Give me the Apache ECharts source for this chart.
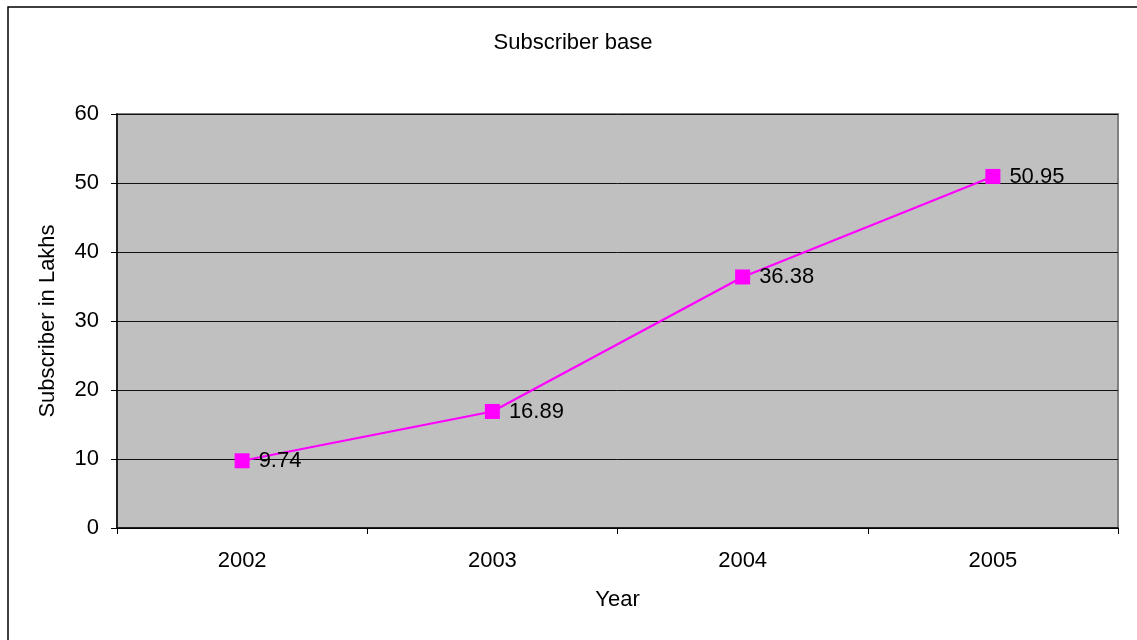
<!DOCTYPE html>
<html><head><meta charset="utf-8">
<script src="https://cdn.jsdelivr.net/npm/echarts@6/dist/echarts.min.js"></script>
<style>html,body{margin:0;padding:0;background:#fff}#c{width:1137px;height:640px}</style>
</head><body><div id="c"></div>
<script>
const categories = ['2002', '2003', '2004', '2005'];
const subscribers = [9.74, 16.89, 36.38, 50.95];
const chartTitle = 'Subscriber base';
const yName = 'Subscriber in Lakhs';
const xName = 'Year';

const font = 'Arial, "Liberation Sans", sans-serif';
const fs = 22;
const chart = echarts.init(document.getElementById('c'));
chart.setOption({
  animation: false,
  backgroundColor: '#fff',
  graphic: [{
    type: 'rect', z: 100,
    shape: { x: 8, y: 7, width: 1160, height: 700 },
    style: { fill: 'none', stroke: '#000', lineWidth: 1.5 }
  }],
  title: {
    text: chartTitle, left: 568, top: 27, textAlign: 'center',
    textStyle: { fontFamily: font, fontSize: fs, fontWeight: 'normal', color: '#000' }
  },
  grid: {
    left: 117, right: 19, top: 114, bottom: 112,
    show: true, backgroundColor: '#C0C0C0', borderColor: '#808080', borderWidth: 2
  },
  xAxis: {
    type: 'category', data: categories, boundaryGap: true,
    name: xName, nameLocation: 'middle', nameGap: 61,
    nameTextStyle: { fontFamily: font, fontSize: fs, color: '#000' },
    axisLine: { lineStyle: { color: '#000', width: 1.5 } },
    axisTick: { show: true, length: 6, inside: false, alignWithLabel: false, lineStyle: { color: '#000' } },
    axisLabel: { margin: 22, fontFamily: font, fontSize: fs, color: '#000' },
    splitLine: { show: false }
  },
  yAxis: {
    type: 'value', min: 0, max: 60, interval: 10,
    name: yName, nameLocation: 'middle', nameGap: 58, nameRotate: 90,
    nameTextStyle: { fontFamily: font, fontSize: fs, color: '#000' },
    axisLine: { show: true, lineStyle: { color: '#000', width: 1.5 } },
    axisTick: { show: true, length: 6, lineStyle: { color: '#000' } },
    axisLabel: { margin: 18, fontFamily: font, fontSize: fs, color: '#000' },
    splitLine: { show: true, lineStyle: { color: '#111', width: 1 } }
  },
  series: [{
    type: 'line', data: subscribers,
    symbol: 'rect', symbolSize: 15,
    lineStyle: { color: '#FF00FF', width: 2.2 },
    itemStyle: { color: '#FF00FF' },
    label: {
      show: true, position: 'right', distance: 9,
      fontFamily: font, fontSize: fs, color: '#000'
    }
  }]
});
</script></body></html>
